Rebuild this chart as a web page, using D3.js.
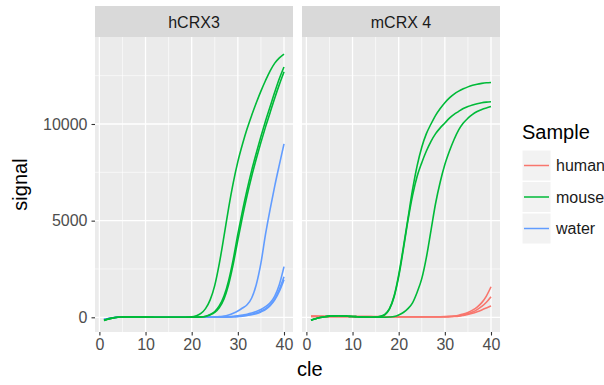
<!DOCTYPE html>
<html>
<head>
<meta charset="utf-8">
<script src="https://cdn.jsdelivr.net/npm/d3@7"></script>
<style>
  body { margin: 0; background: #fff; }
  text { font-family: "Liberation Sans", Arial, sans-serif; }
</style>
</head>
<body>
<div id="plot"></div>
<script>
// cycles 1..40
var cycles = [1,2,3,4,5,6,7,8,9,10,11,12,13,14,15,16,17,18,19,20,
              21,22,23,24,25,26,27,28,29,30,31,32,33,34,35,36,37,38,39,40]

var panels = ['hCRX3', 'mCRX 4']
var samples = ['human', 'mouse', 'water']
var colors = ['#F8766D', '#00BA38', '#619CFF']

var xTicks = [0, 10, 20, 30, 40]
var xMinor = [5, 15, 25, 35]
var yTicks = [0, 5000, 10000]
var yMinor = [2500, 7500, 12500]

// hCRX3 wells
var hMouseA = [-150,-80,-30,0,15,20,20,20,15,10,10,5,5,0,0,0,0,0,10,20,
               80,200,450,900,1650,2800,4200,5650,6950,8050,8950,9750,10450,11100,11700,12250,12750,13150,13420,13620]
var hMouseB = [-170,-90,-35,0,10,15,15,15,10,10,5,5,0,0,0,0,0,0,0,0,
               10,20,60,150,300,600,1100,1900,3000,4300,5500,6600,7600,8500,9350,10150,10900,11650,12350,12950]
var hMouseC = [-160,-85,-30,0,10,15,15,15,10,10,5,5,0,0,0,0,0,0,0,0,
               5,15,45,120,250,500,950,1700,2750,4000,5200,6300,7300,8200,9050,9850,10600,11350,12050,12700]
var hWaterA = [-120,-60,-20,0,10,10,10,10,10,5,5,5,0,0,0,0,0,0,0,0,
               0,5,10,15,20,40,60,120,210,330,480,650,1000,1700,2800,4300,5600,6800,7900,8970]
var hWaterB = [-120,-60,-20,0,10,10,10,10,10,5,5,5,0,0,0,0,0,0,0,0,
               0,0,0,0,0,10,20,30,50,80,120,160,220,300,400,550,750,1100,1700,2620]
var hWaterC = [-120,-60,-20,0,10,10,10,10,10,5,5,5,0,0,0,0,0,0,0,0,
               0,0,0,0,0,5,10,20,30,50,80,110,160,220,320,450,650,950,1450,2100]
var hWaterD = [-120,-60,-20,0,10,10,10,10,10,5,5,5,0,0,0,0,0,0,0,0,
               0,0,0,0,0,5,10,15,25,40,60,90,130,190,280,400,600,900,1350,1950]

// mCRX 4 wells
var mMouseA = [-150,-70,-10,30,60,75,80,70,55,40,30,20,10,5,10,50,150,450,1100,2200,
               3600,5100,6600,7850,8800,9500,10000,10450,10800,11100,11350,11550,11700,11820,11920,12000,12060,12100,12130,12150]
var mMouseB = [-150,-70,-10,30,60,75,80,70,55,40,30,20,10,5,8,40,130,420,1050,2100,
               3500,5000,6300,7300,8000,8600,9100,9500,9800,10050,10300,10500,10650,10800,10900,10980,11050,11100,11130,11150]
var mMouseC = [-150,-70,-10,30,60,75,80,70,55,40,30,20,10,5,0,0,5,15,40,120,
               250,450,750,1300,2000,3100,4500,5900,7000,7900,8600,9200,9700,10050,10300,10500,10650,10750,10830,10900]
var mHumanA = [60,60,55,50,50,50,45,45,45,40,40,40,35,35,35,35,30,30,30,30,
               30,30,30,30,30,30,30,30,30,35,45,70,110,170,250,370,530,760,1100,1580]
var mHumanB = [50,50,50,45,45,45,40,40,40,40,35,35,35,35,30,30,30,30,30,30,
               30,30,30,30,30,30,30,30,30,30,40,55,80,130,190,280,400,560,780,1065]
var mHumanC = [40,40,40,40,35,35,35,35,35,30,30,30,30,30,30,30,25,25,25,25,
               25,25,25,25,25,25,25,25,25,30,35,45,60,100,150,210,290,380,480,585]

var wells = [
  {panel: 'hCRX3', sample: 'water', values: hWaterA},
  {panel: 'hCRX3', sample: 'water', values: hWaterB},
  {panel: 'hCRX3', sample: 'water', values: hWaterC},
  {panel: 'hCRX3', sample: 'water', values: hWaterD},
  {panel: 'hCRX3', sample: 'mouse', values: hMouseC},
  {panel: 'hCRX3', sample: 'mouse', values: hMouseB},
  {panel: 'hCRX3', sample: 'mouse', values: hMouseA},
  {panel: 'mCRX 4', sample: 'human', values: mHumanA},
  {panel: 'mCRX 4', sample: 'human', values: mHumanB},
  {panel: 'mCRX 4', sample: 'human', values: mHumanC},
  {panel: 'mCRX 4', sample: 'mouse', values: mMouseA},
  {panel: 'mCRX 4', sample: 'mouse', values: mMouseB},
  {panel: 'mCRX 4', sample: 'mouse', values: mMouseC}
]

var width = 604
var height = 385
var panelTop = 37
var panelBottom = 332
var stripTop = 6
var panelLeft = [95, 302]
var panelW = 198

var color = d3.scaleOrdinal().domain(samples).range(colors)

var y = d3.scaleLinear().domain([-760, 14500]).range([panelBottom, panelTop])

var svg = d3.select('#plot').append('svg')
  .attr('width', width)
  .attr('height', height)

svg.append('rect').attr('width', width).attr('height', height).attr('fill', '#fff')

panels.forEach(function(name, i){
  var x = d3.scaleLinear().domain([-0.95, 41.95]).range([panelLeft[i], panelLeft[i] + panelW])
  var g = svg.append('g')

  // strip
  g.append('rect')
    .attr('x', panelLeft[i]).attr('y', stripTop)
    .attr('width', panelW).attr('height', panelTop - stripTop)
    .attr('fill', '#D9D9D9')
  g.append('text')
    .attr('x', panelLeft[i] + panelW / 2).attr('y', 27.5)
    .attr('text-anchor', 'middle')
    .attr('font-size', 16)
    .attr('fill', '#1A1A1A')
    .text(name)

  // panel background
  g.append('rect')
    .attr('x', panelLeft[i]).attr('y', panelTop)
    .attr('width', panelW).attr('height', panelBottom - panelTop)
    .attr('fill', '#EBEBEB')

  g.selectAll('.ymin').data(yMinor).enter().append('line')
    .attr('x1', panelLeft[i]).attr('x2', panelLeft[i] + panelW)
    .attr('y1', function(d){ return y(d) }).attr('y2', function(d){ return y(d) })
    .attr('stroke', '#fff').attr('stroke-width', 0.6)
  g.selectAll('.xmin').data(xMinor).enter().append('line')
    .attr('y1', panelTop).attr('y2', panelBottom)
    .attr('x1', function(d){ return x(d) }).attr('x2', function(d){ return x(d) })
    .attr('stroke', '#fff').attr('stroke-width', 0.6)
  g.selectAll('.ymaj').data(yTicks).enter().append('line')
    .attr('x1', panelLeft[i]).attr('x2', panelLeft[i] + panelW)
    .attr('y1', function(d){ return y(d) }).attr('y2', function(d){ return y(d) })
    .attr('stroke', '#fff').attr('stroke-width', 1.3)
  g.selectAll('.xmaj').data(xTicks).enter().append('line')
    .attr('y1', panelTop).attr('y2', panelBottom)
    .attr('x1', function(d){ return x(d) }).attr('x2', function(d){ return x(d) })
    .attr('stroke', '#fff').attr('stroke-width', 1.3)

  // curves
  var line = d3.line()
    .x(function(d, j){ return x(cycles[j]) })
    .y(function(d){ return y(d) })
    .curve(d3.curveMonotoneX)

  g.selectAll('.well')
    .data(wells.filter(function(w){ return w.panel == name }))
    .enter().append('path')
    .attr('d', function(w){ return line(w.values) })
    .attr('fill', 'none')
    .attr('stroke', function(w){ return color(w.sample) })
    .attr('stroke-width', 1.6)

  // x axis
  var xAxis = svg.append('g')
    .attr('transform', 'translate(0,' + panelBottom + ')')
    .call(d3.axisBottom(x).tickValues(xTicks).tickSize(3.5).tickPadding(3))
  xAxis.select('.domain').remove()
  xAxis.selectAll('line').attr('stroke', '#333').attr('stroke-width', 1.1)
  xAxis.selectAll('text').attr('font-size', 16).attr('fill', '#4D4D4D')
    .attr('font-family', '"Liberation Sans", Arial, sans-serif')
})

// y axis (left panel only)
var yAxis = svg.append('g')
  .attr('transform', 'translate(' + panelLeft[0] + ',0)')
  .call(d3.axisLeft(y).tickValues(yTicks).tickSize(3.5).tickPadding(4).tickFormat(d3.format('d')))
yAxis.select('.domain').remove()
yAxis.selectAll('line').attr('stroke', '#333').attr('stroke-width', 1.1)
yAxis.selectAll('text').attr('font-size', 16).attr('fill', '#4D4D4D')
  .attr('font-family', '"Liberation Sans", Arial, sans-serif')

// axis titles
svg.append('text')
  .attr('transform', 'translate(27,' + ((panelTop + panelBottom) / 2) + ') rotate(-90)')
  .attr('text-anchor', 'middle')
  .attr('font-size', 20)
  .attr('fill', '#000')
  .text('signal')

svg.append('text')
  .attr('x', 297).attr('y', 376)
  .attr('font-size', 20)
  .attr('fill', '#000')
  .text('cle')

// legend
var legend = svg.append('g').attr('transform', 'translate(522,0)')
legend.append('text')
  .attr('x', 0).attr('y', 139)
  .attr('font-size', 20)
  .attr('fill', '#000')
  .text('Sample')

var keys = legend.selectAll('.key').data(samples).enter().append('g')
  .attr('transform', function(d, i){ return 'translate(0,' + (150 + i * 31.5) + ')' })
keys.append('rect')
  .attr('width', 29).attr('height', 31)
  .attr('fill', '#F2F2F2')
  .attr('stroke', '#fff').attr('stroke-width', 1)
keys.append('line')
  .attr('x1', 2).attr('x2', 27).attr('y1', 15.5).attr('y2', 15.5)
  .attr('stroke', function(d){ return color(d) })
  .attr('stroke-width', 1.5)
keys.append('text')
  .attr('x', 34).attr('y', 21)
  .attr('font-size', 16)
  .attr('fill', '#1A1A1A')
  .text(function(d){ return d })
</script>
</body>
</html>
